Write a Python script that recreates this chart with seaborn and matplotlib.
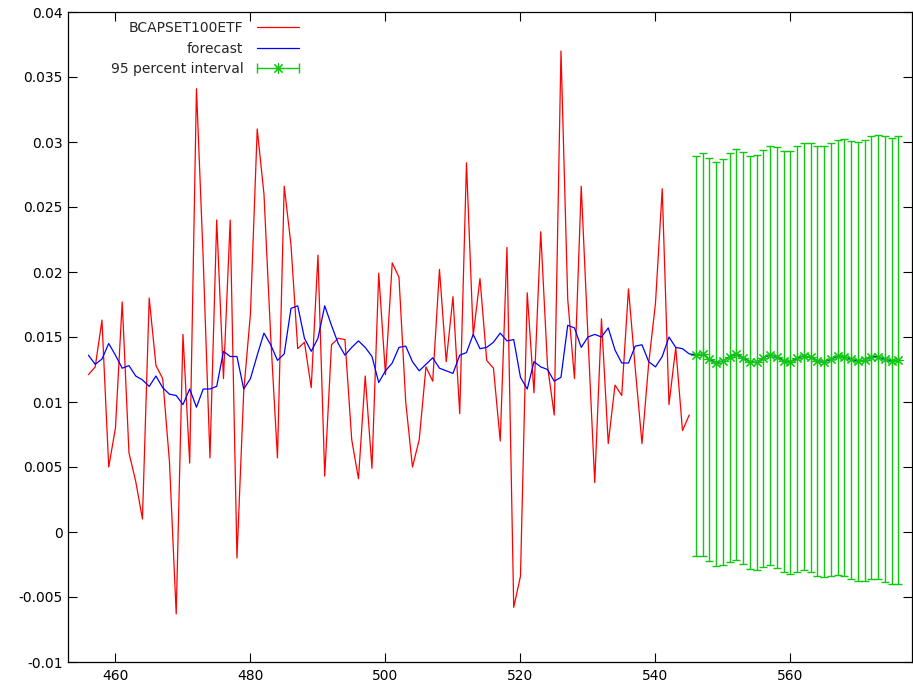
#!/usr/bin/env python
# encoding: utf-8

import numpy as np
import pandas as pd
import matplotlib
matplotlib.use('Agg')
import matplotlib.pyplot as plt
import seaborn as sns
from matplotlib.lines import Line2D
from matplotlib.legend_handler import HandlerLine2D


# observed series, obs 456..545
actual = [0.0121, 0.0127, 0.0163, 0.0050, 0.0080, 0.0177, 0.0061, 0.0039, 0.0010, 0.0180,
          0.0128, 0.0118, 0.0054, -0.0063, 0.0152, 0.0053, 0.0341, 0.0210, 0.0057, 0.0240,
          0.0118, 0.0240, -0.0020, 0.0108, 0.0168, 0.0310, 0.0260, 0.0150, 0.0057, 0.0266,
          0.0221, 0.0141, 0.0146, 0.0111, 0.0213, 0.0043, 0.0144, 0.0149, 0.0148, 0.0071,
          0.0041, 0.0120, 0.0049, 0.0199, 0.0121, 0.0207, 0.0196, 0.0100, 0.0050, 0.0071,
          0.0127, 0.0116, 0.0202, 0.0131, 0.0181, 0.0091, 0.0284, 0.0151, 0.0195, 0.0132,
          0.0126, 0.0070, 0.0219, -0.0058, -0.0034, 0.0184, 0.0107, 0.0231, 0.0128, 0.0090,
          0.0370, 0.0179, 0.0118, 0.0266, 0.0150, 0.0038, 0.0164, 0.0068, 0.0113, 0.0105,
          0.0187, 0.0126, 0.0068, 0.0130, 0.0176, 0.0264, 0.0098, 0.0142, 0.0078, 0.0090]

# fitted values, obs 456..545
fitted = [0.0136, 0.0129, 0.0133, 0.0145, 0.0136, 0.0126, 0.0128, 0.0120, 0.0117, 0.0112,
          0.0120, 0.0111, 0.0106, 0.0105, 0.0098, 0.0110, 0.0096, 0.0110, 0.0110, 0.0112,
          0.0139, 0.0135, 0.0135, 0.0110, 0.0118, 0.0136, 0.0153, 0.0144, 0.0132, 0.0137,
          0.0172, 0.0174, 0.0149, 0.0139, 0.0149, 0.0174, 0.0159, 0.0145, 0.0136, 0.0142,
          0.0147, 0.0142, 0.0135, 0.0115, 0.0124, 0.0130, 0.0142, 0.0143, 0.0131, 0.0124,
          0.0129, 0.0134, 0.0126, 0.0124, 0.0122, 0.0136, 0.0138, 0.0152, 0.0141, 0.0142,
          0.0146, 0.0153, 0.0147, 0.0148, 0.0119, 0.0110, 0.0131, 0.0127, 0.0125, 0.0116,
          0.0119, 0.0159, 0.0157, 0.0142, 0.0150, 0.0152, 0.0150, 0.0157, 0.0140, 0.0130,
          0.0130, 0.0143, 0.0144, 0.0131, 0.0127, 0.0135, 0.0150, 0.0142, 0.0141, 0.0137]

# out of sample forecast, obs 546..576
fc_mid = [0.01362, 0.01369, 0.01328, 0.01302, 0.01315, 0.01349, 0.01367, 0.01341, 0.01310, 0.01305,
          0.01341, 0.01362, 0.01349, 0.01318, 0.01310, 0.01336, 0.01356, 0.01344, 0.01318, 0.01310,
          0.01328, 0.01354, 0.01349, 0.01328, 0.01315, 0.01323, 0.01349, 0.01349, 0.01328, 0.01318,
          0.01323]
fc_upper = [0.02895, 0.02913, 0.02879, 0.02849, 0.02867, 0.02918, 0.02944, 0.02920, 0.02892, 0.02900,
            0.02941, 0.02972, 0.02959, 0.02933, 0.02933, 0.02967, 0.02995, 0.02992, 0.02972, 0.02967,
            0.02990, 0.03018, 0.03023, 0.03008, 0.03000, 0.03018, 0.03044, 0.03051, 0.03044, 0.03033,
            0.03046]
fc_lower = [-0.00185, -0.00182, -0.00223, -0.00262, -0.00256, -0.00228, -0.00218, -0.00249, -0.00285, -0.00290,
            -0.00267, -0.00256, -0.00277, -0.00310, -0.00323, -0.00305, -0.00292, -0.00305, -0.00336, -0.00349,
            -0.00341, -0.00328, -0.00336, -0.00359, -0.00377, -0.00374, -0.00362, -0.00364, -0.00387, -0.00403,
            -0.00403]

FIRST_OBS = 456
RED = '#ff0000'
BLUE = '#0000ff'
GREEN = '#10c810'


def build_frames():
    obs_in = np.arange(FIRST_OBS, FIRST_OBS + len(actual))
    obs_out = np.arange(obs_in[-1] + 1, obs_in[-1] + 1 + len(fc_mid))
    df_act = pd.DataFrame({'obs': obs_in, 'value': actual})
    # forecast line runs on through the out of sample part
    df_fc = pd.DataFrame({'obs': np.concatenate([obs_in, obs_out]),
                          'value': fitted + fc_mid})
    df_int = pd.DataFrame({'obs': obs_out, 'mid': fc_mid,
                           'lo': fc_lower, 'hi': fc_upper})
    return df_act, df_fc, df_int


def main():
    sns.set_style('white', {'axes.edgecolor': 'black'})
    plt.rcParams['font.family'] = ['DejaVu Sans']
    plt.rcParams['font.size'] = 10

    df_act, df_fc, df_int = build_frames()

    fig = plt.figure(figsize=(9.13, 6.93), dpi=100)
    ax = fig.add_axes([68.2 / 913, 31 / 693, 843.8 / 913, 650 / 693])

    sns.lineplot(data=df_act, x='obs', y='value', color=RED, lw=0.9, ax=ax)
    sns.lineplot(data=df_fc, x='obs', y='value', color=BLUE, lw=0.9, ax=ax)

    yerr = [df_int['mid'] - df_int['lo'], df_int['hi'] - df_int['mid']]
    ax.errorbar(df_int['obs'], df_int['mid'], yerr=yerr, fmt='none',
                ecolor=GREEN, elinewidth=1.0, capsize=2.6, capthick=1.0, zorder=3)
    ax.plot(df_int['obs'], df_int['mid'], ls='none', marker=(8, 2, 0), ms=8,
            mec=GREEN, mew=0.8, zorder=4)

    ax.set_xlim(453, 578)
    ax.set_ylim(-0.01, 0.04)
    ax.set_xticks([460, 480, 500, 520, 540, 560])
    ax.set_yticks(np.arange(-0.01, 0.0401, 0.005))
    ax.set_yticklabels(['-0.01', '-0.005', '0', '0.005', '0.01', '0.015', '0.02',
                        '0.025', '0.03', '0.035', '0.04'])
    ax.tick_params(direction='in', length=6.5, width=0.8, top=True, right=True,
                   bottom=True, left=True, labelsize=10, colors='black')
    ax.tick_params(axis='y', pad=4)
    ax.tick_params(axis='x', pad=5)
    ax.set_xlabel('')
    ax.set_ylabel('')
    for sp in ax.spines.values():
        sp.set_linewidth(0.9)
        sp.set_color('black')

    # gnuplot style key: text on the left, sample on the right
    h_act = Line2D([], [], color=RED, lw=0.9)
    h_fc = Line2D([], [], color=BLUE, lw=0.9)
    h_caps = Line2D([], [], color=GREEN, lw=1.0, marker='|', ms=7, mew=1.0)
    h_star = Line2D([], [], color=GREEN, ls='none', marker=(8, 2, 0), ms=8, mew=0.8)
    leg = ax.legend([h_act, h_fc, (h_caps, h_star)],
                    ['BCAPSET100ETF', 'forecast', '95 percent interval'],
                    handler_map={h_caps: HandlerLine2D(numpoints=2, marker_pad=0),
                                 h_star: HandlerLine2D(numpoints=1)},
                    loc='upper left', bbox_to_anchor=(0.047, 0.99), frameon=False,
                    markerfirst=False, handlelength=3.0, handletextpad=1.0,
                    labelspacing=0.45, borderaxespad=0, borderpad=0.2, fontsize=10)

    fig.savefig('out.png', dpi=100, facecolor='white')


if __name__ == '__main__':
    main()
